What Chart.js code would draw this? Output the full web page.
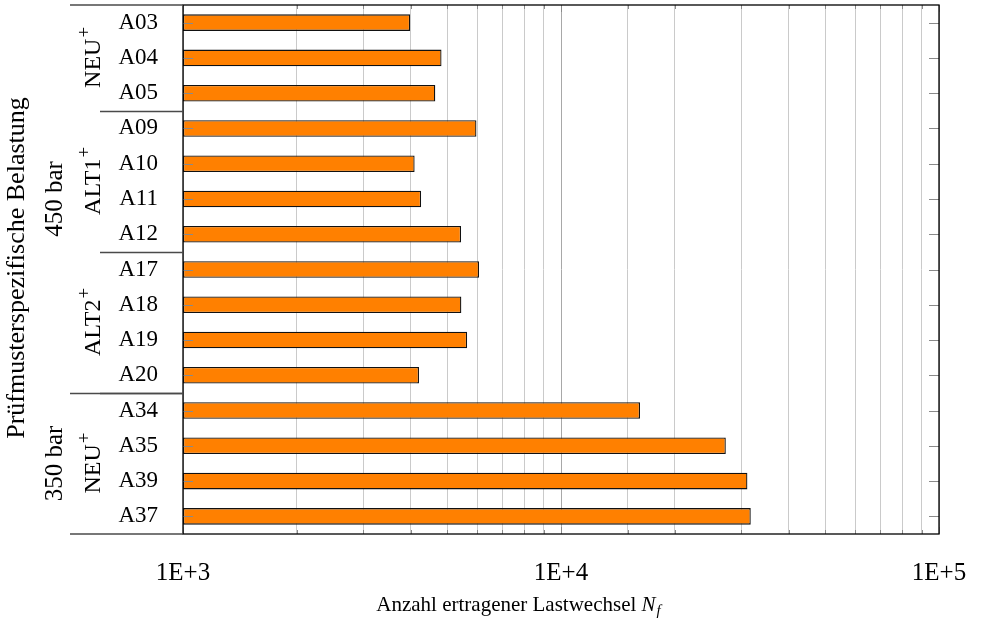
<!DOCTYPE html>
<html>
<head>
<meta charset="utf-8">
<script src="https://cdn.jsdelivr.net/npm/chart.js@4.4.0/dist/chart.umd.min.js"></script>
<style>
html, body { margin:0; padding:0; background:#fff; }
</style>
</head>
<body>
<canvas id="chart" width="981" height="620"></canvas>
<script>
// Proben, von oben nach unten
var proben = ['A03','A04','A05','A09','A10','A11','A12','A17','A18','A19','A20','A34','A35','A39','A37'];
// ertragene Lastwechsel N_f je Probe
var lastwechsel = [3990, 4830, 4650, 5975, 4100, 4265, 5440, 6070, 5450, 5645, 4210, 16180, 27290, 31130, 31770];
// Gruppen: Name, erste Probe, letzte Probe
var gruppen = [['NEU', 0, 2], ['ALT1', 3, 6], ['ALT2', 7, 10], ['NEU', 11, 14]];
var belastungen = [['450 bar', 0, 10], ['350 bar', 11, 14]];
// beschriftete Ticks der x-Achse
var xTicks = [1000, 10000, 100000];
var xTickLabels = ['1E+3', '1E+4', '1E+5'];

var SERIF = '"Liberation Serif", "DejaVu Serif", serif';

function linie(ctx, x1, y1, x2, y2) {
  ctx.beginPath();
  ctx.moveTo(x1, y1);
  ctx.lineTo(x2, y2);
  ctx.stroke();
}

// gedrehter Text (von unten nach oben), optional mit Hochstellung
function drehText(ctx, txt, sup, x, y, size) {
  ctx.save();
  ctx.translate(x, y);
  ctx.rotate(-Math.PI / 2);
  ctx.fillStyle = '#000';
  ctx.textAlign = 'left';
  ctx.textBaseline = 'alphabetic';
  ctx.font = size + 'px ' + SERIF;
  var w = ctx.measureText(txt).width;
  var supSize = Math.round(size * 0.8);
  var sw = 0;
  if (sup) {
    ctx.font = supSize + 'px ' + SERIF;
    sw = ctx.measureText(sup).width;
  }
  var x0 = -(w + sw) / 2;
  ctx.font = size + 'px ' + SERIF;
  ctx.fillText(txt, x0, 0);
  if (sup) {
    ctx.font = supSize + 'px ' + SERIF;
    ctx.fillText(sup, x0 + w + 1, -size * 0.4);
  }
  ctx.restore();
}

var rahmen = {
  id: 'rahmen',
  afterDraw: function(chart) {
    var ctx = chart.ctx, a = chart.chartArea;
    var ys = chart.scales.y, xs = chart.scales.x;
    ctx.save();

    // kleine Ticks innen
    ctx.strokeStyle = '#8a8a8a';
    ctx.lineWidth = 1;
    proben.forEach(function(p, i) {
      var y = Math.round(ys.getPixelForValue(i)) + 0.5;
      linie(ctx, a.left, y, a.left + 10, y);
      linie(ctx, a.right - 10, y, a.right, y);
    });
    xs.ticks.forEach(function(t) {
      var x = Math.round(xs.getPixelForValue(t.value)) + 0.5;
      var len = xTicks.indexOf(t.value) >= 0 ? 7 : 4;
      linie(ctx, x, a.bottom, x, a.bottom - len);
      linie(ctx, x, a.top, x, a.top + len);
    });

    // Rahmen
    ctx.strokeStyle = '#000';
    ctx.lineWidth = 1.3;
    ctx.strokeRect(a.left, a.top, a.right - a.left, a.bottom - a.top);
    ctx.strokeStyle = '#4a4a4a';
    linie(ctx, 70, a.top, a.left, a.top);
    linie(ctx, 70, a.bottom, a.left, a.bottom);

    // Trennlinien zwischen den Gruppen
    function grenze(i) {
      return Math.round((ys.getPixelForValue(i) + ys.getPixelForValue(i + 1)) / 2) + 0.5;
    }
    gruppen.forEach(function(g) {
      if (g[2] < proben.length - 1) linie(ctx, 100, grenze(g[2]), a.left, grenze(g[2]));
    });
    belastungen.forEach(function(b) {
      if (b[2] < proben.length - 1) linie(ctx, 70, grenze(b[2]), a.left, grenze(b[2]));
    });

    // Gruppenbeschriftung
    gruppen.forEach(function(g) {
      var ym = (ys.getPixelForValue(g[1]) + ys.getPixelForValue(g[2])) / 2;
      drehText(ctx, g[0], '+', 100, ym, 24);
    });
    belastungen.forEach(function(b) {
      var ym = (ys.getPixelForValue(b[1]) + ys.getPixelForValue(b[2])) / 2;
      drehText(ctx, b[0], null, 62, ym, 25);
    });
    drehText(ctx, 'Prüfmusterspezifische Belastung', null, 24, 268, 26);

    // Achsentitel x
    ctx.fillStyle = '#000';
    ctx.textBaseline = 'alphabetic';
    ctx.textAlign = 'left';
    var t1 = 'Anzahl ertragener Lastwechsel ';
    ctx.font = '21px ' + SERIF;
    var w1 = ctx.measureText(t1).width;
    ctx.font = 'italic 21px ' + SERIF;
    var w2 = ctx.measureText('N').width;
    ctx.font = 'italic 15px ' + SERIF;
    var w3 = ctx.measureText('f').width;
    var x0 = 518 - (w1 + w2 + w3) / 2;
    var yb = 611;
    ctx.font = '21px ' + SERIF;
    ctx.fillText(t1, x0, yb);
    ctx.font = 'italic 21px ' + SERIF;
    ctx.fillText('N', x0 + w1, yb);
    ctx.font = 'italic 15px ' + SERIF;
    ctx.fillText('f', x0 + w1 + w2 + 1, yb + 4);

    ctx.restore();
  }
};

new Chart(document.getElementById('chart').getContext('2d'), {
  type: 'bar',
  data: {
    labels: proben,
    datasets: [{
      data: lastwechsel,
      backgroundColor: '#ff8000',
      borderColor: '#111',
      borderWidth: 1.3,
      borderSkipped: false,
      categoryPercentage: 1,
      barPercentage: 0.47
    }]
  },
  options: {
    indexAxis: 'y',
    responsive: false,
    animation: false,
    devicePixelRatio: 1,
    layout: { padding: { top: 5, right: 42, left: 0, bottom: 0 } },
    plugins: { legend: { display: false }, tooltip: { enabled: false } },
    scales: {
      x: {
        type: 'logarithmic',
        min: 1000,
        max: 100000,
        border: { display: false },
        grid: {
          drawTicks: false,
          lineWidth: 1,
          color: function(c) {
            return c.tick && xTicks.indexOf(c.tick.value) >= 0 ? '#a8a8a8' : '#cacaca';
          }
        },
        ticks: {
          autoSkip: false,
          maxRotation: 0,
          padding: 24,
          color: '#000',
          font: { family: SERIF, size: 25 },
          callback: function(v) {
            var i = xTicks.indexOf(v);
            return i >= 0 ? xTickLabels[i] : '';
          }
        },
        afterFit: function(s) {
          s.height = 86;
          s.paddingLeft = 0;
          s.paddingRight = 0;
        }
      },
      y: {
        type: 'category',
        offset: true,
        border: { display: false },
        grid: { display: false, drawTicks: false },
        ticks: {
          padding: 25,
          color: '#000',
          font: { family: SERIF, size: 23 }
        },
        afterFit: function(s) {
          s.width = 183;
          s.paddingTop = 0;
          s.paddingBottom = 0;
        }
      }
    }
  },
  plugins: [rahmen]
});
</script>
</body>
</html>
